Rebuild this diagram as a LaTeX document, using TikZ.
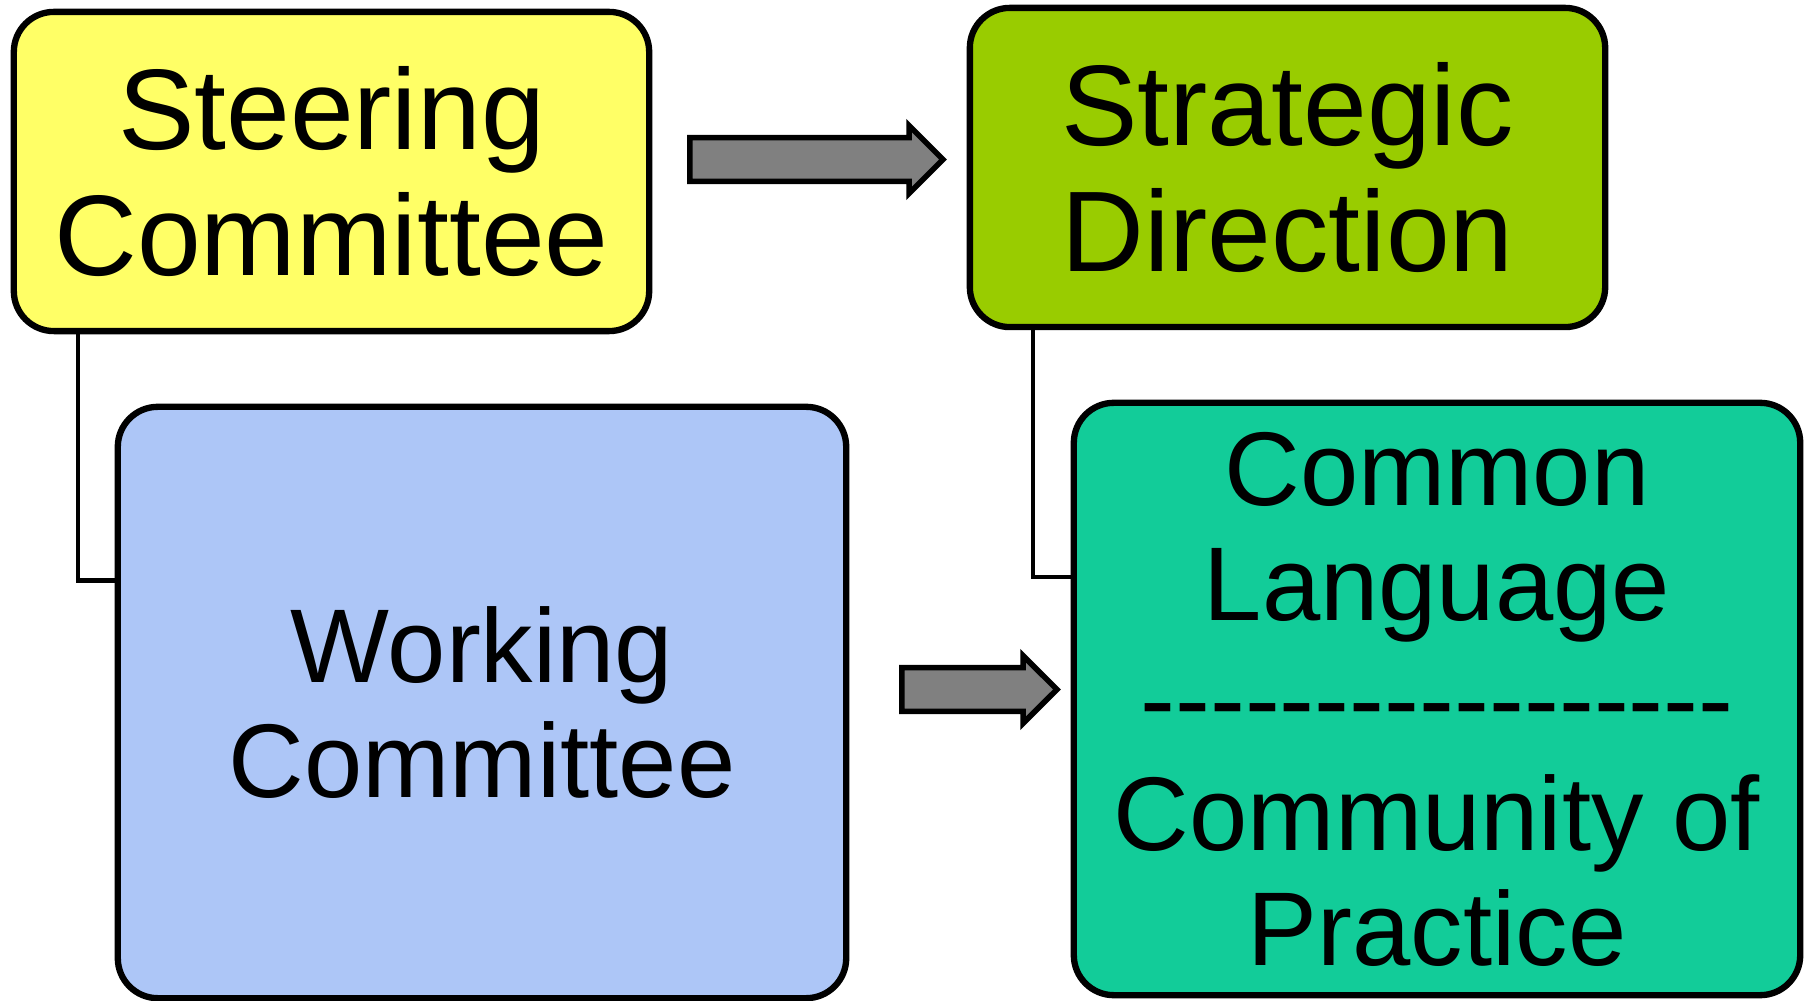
\documentclass[tikz,border=0pt]{standalone}
\usepackage{fontspec}
\setmainfont{Liberation Sans}
\usetikzlibrary{calc}
\usetikzlibrary{shapes.arrows}

\definecolor{steeryellow}{HTML}{FFFF66}
\definecolor{stratgreen}{HTML}{99CC00}
\definecolor{workblue}{HTML}{ADC6F7}
\definecolor{commonteal}{HTML}{12CC99}
\definecolor{arrowgray}{HTML}{808080}

\newcommand{\hy}{\mbox{-}}

\begin{document}
\begin{tikzpicture}[x=0.01cm, y=-0.01cm,
    box/.style={draw, line width=1.8pt, rounded corners=0.4cm, align=center, inner sep=0pt},
    bigtext/.style={font=\fontsize{32.6}{36}\selectfont},
    smalltext/.style={font=\fontsize{29.8}{32.7}\selectfont},
    link/.style={line width=1.2pt},
    blockarrow/.style={single arrow, draw, line width=1.6pt, fill=arrowgray, inner xsep=0pt, inner ysep=0.19cm,
        single arrow tip angle=90, single arrow head extend=0.12cm}]
    \useasboundingbox (0,0) rectangle (1810,1001);
    % boxes
    \node[box, fill=steeryellow, minimum width=6.35cm, minimum height=3.19cm, bigtext] (steer) at (331.5,171.5) {Steering\\Committee};
    \node[box, fill=stratgreen, minimum width=6.35cm, minimum height=3.19cm, bigtext] (strat) at (1287.5,167.5) {Strategic\\Direction};
    \node[box, fill=workblue, minimum width=7.28cm, minimum height=5.91cm, smalltext] (work) at (482,702.5) {Working\\Committee};
    \node[box, fill=commonteal, minimum width=7.26cm, minimum height=5.92cm, smalltext] (common) at (1437,699)
        {Common\\Language\\\hy\hy\hy\hy\hy\hy\hy\hy\hy\hy\hy\hy\hy\hy\hy\hy\hy\\Community of\\Practice};
    % block arrows
    \node[blockarrow, minimum height=2.53cm] (arrA) at (805.5,159.5) {};
    \node[blockarrow, minimum height=1.55cm] (arrB) at (968.5,689.5) {};
    % elbow links
    \draw[link] ($(steer.south west)+(67,0)$) |- ($(work.west)+(0,-122)$);
    \draw[link] ($(strat.south west)+(66,0)$) |- ($(common.west)+(0,-122)$);
\end{tikzpicture}
\end{document}
